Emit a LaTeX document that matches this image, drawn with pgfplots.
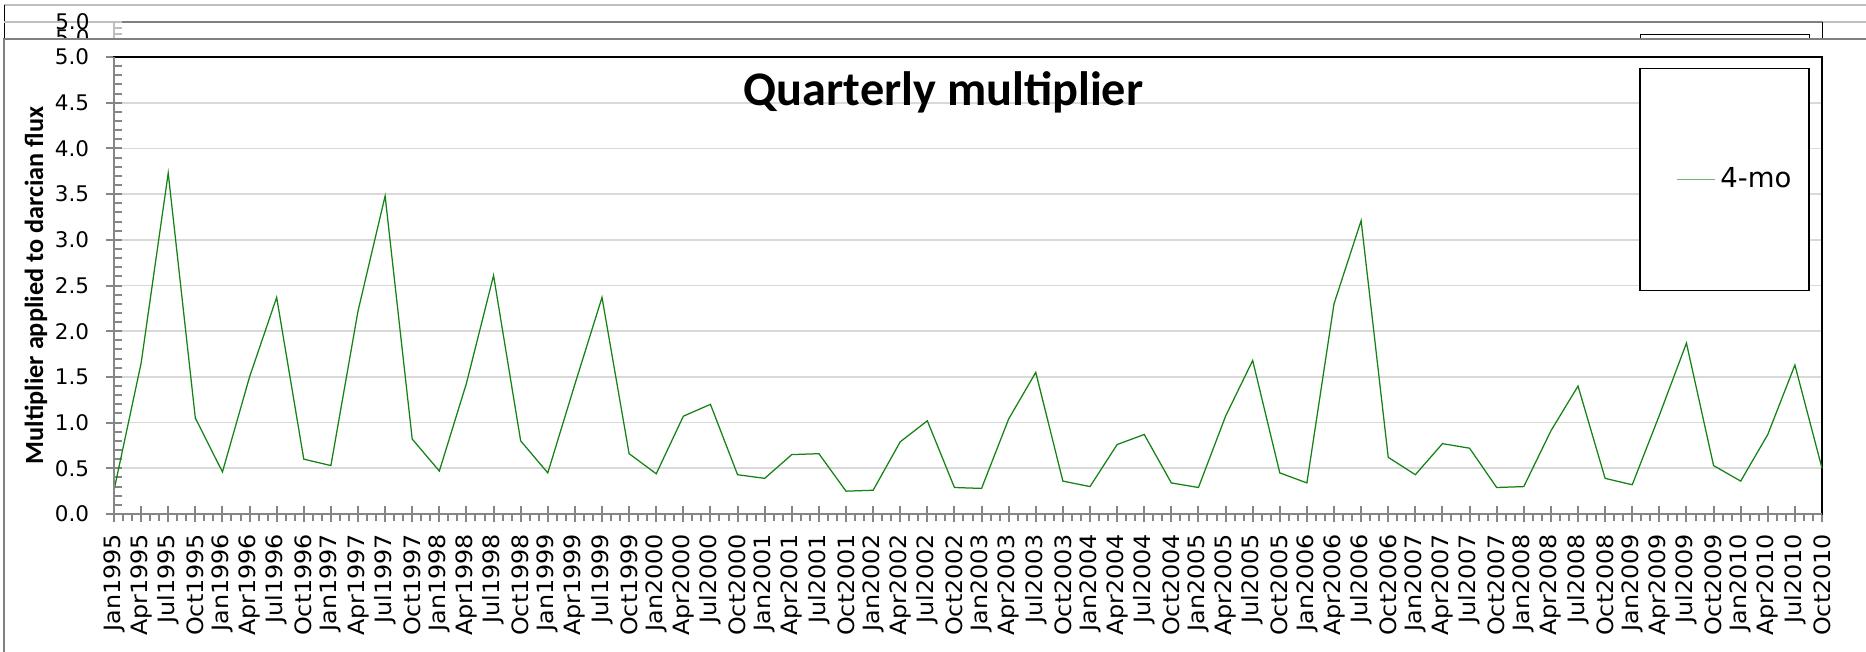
\documentclass[border=0pt]{standalone}
\usepackage{fontspec}
\setmainfont{DejaVu Sans}
\newfontfamily\carlito{Carlito}
\newfontfamily\xlab[FakeStretch=1.06]{DejaVu Sans}
\usepackage{pgfplots}
\pgfplotsset{compat=1.18}
\definecolor{axgray}{RGB}{134,134,134}
\definecolor{gridgray}{RGB}{217,217,217}
\definecolor{lgreen}{RGB}{20,130,20}
\definecolor{leggreen}{RGB}{110,185,110}
\definecolor{lightframe}{RGB}{191,191,191}
\definecolor{midframe}{RGB}{128,128,128}

\pgfplotstableread{
x y
0 0.26
1 1.65
2 3.73
3 1.05
4 0.46
5 1.50
6 2.37
7 0.60
8 0.53
9 2.22
10 3.48
11 0.82
12 0.47
13 1.43
14 2.61
15 0.80
16 0.45
17 1.42
18 2.37
19 0.66
20 0.44
21 1.07
22 1.20
23 0.43
24 0.39
25 0.65
26 0.66
27 0.25
28 0.26
29 0.79
30 1.02
31 0.29
32 0.28
33 1.04
34 1.55
35 0.36
36 0.30
37 0.76
38 0.87
39 0.34
40 0.29
41 1.07
42 1.68
43 0.45
44 0.34
45 2.30
46 3.21
47 0.62
48 0.43
49 0.77
50 0.72
51 0.29
52 0.30
53 0.91
54 1.40
55 0.39
56 0.32
57 1.08
58 1.87
59 0.53
60 0.36
61 0.87
62 1.63
63 0.50
}\datatable

\begin{document}
\begin{tikzpicture}
\useasboundingbox (0,0) rectangle (746.4pt,260.4pt);
% --- charts stacked behind (partly visible at the top)
\draw[lightframe, line width=0.8pt] (1.6pt,258.4pt) -- (746.4pt,258.4pt);
\draw[black, line width=0.4pt] (1.6pt,258.4pt) -- (1.6pt,244.8pt);
\draw[lightframe, line width=0.8pt] (1.6pt,251.6pt) -- (746.4pt,251.6pt);
\draw[midframe, line width=0.8pt] (45.6pt,251.6pt) -- (728.8pt,251.6pt);
\draw[black, line width=0.4pt] (728.8pt,251.6pt) -- (728.8pt,244.8pt);
\draw[black, line width=0.4pt] (656pt,244.8pt) -- (656pt,246.4pt) -- (723.6pt,246.4pt) -- (723.6pt,244.8pt);
\draw[lightframe, line width=0.8pt] (42.4pt,251.6pt) -- (48.8pt,251.6pt);
\foreach \yy in {249.2,246.8} \draw[lightframe, line width=0.8pt] (45.6pt,\yy pt) -- (48.8pt,\yy pt);
\draw[lightframe, line width=0.8pt] (45.6pt,251.6pt) -- (45.6pt,244.8pt);
\begin{scope}
\clip (0pt,244.8pt) rectangle (746.4pt,260.4pt);
\node[font=\fontsize{8.6}{10}\selectfont, anchor=east, inner sep=0pt] at (36pt,245.4pt) {5.0};
\end{scope}
\node[font=\fontsize{8.6}{10}\selectfont, anchor=east, inner sep=0pt] at (36pt,251.6pt) {5.0};
% --- front chart area
\fill[white] (1.6pt,-5pt) rectangle (750pt,244.8pt);
\draw[midframe, line width=0.8pt] (1.6pt,-5pt) -- (1.6pt,244.8pt) -- (750pt,244.8pt);

\begin{axis}[
  at={(45.6pt,54.8pt)}, anchor=south west,
  scale only axis, width=683.2pt, height=182.8pt,
  xmin=0, xmax=63, ymin=0, ymax=5,
  axis line style={black, line width=0.5pt},
  xtick={0,...,63},
  xticklabels={Jan1995,Apr1995,Jul1995,Oct1995,Jan1996,Apr1996,Jul1996,Oct1996,Jan1997,Apr1997,Jul1997,Oct1997,Jan1998,Apr1998,Jul1998,Oct1998,Jan1999,Apr1999,Jul1999,Oct1999,Jan2000,Apr2000,Jul2000,Oct2000,Jan2001,Apr2001,Jul2001,Oct2001,Jan2002,Apr2002,Jul2002,Oct2002,Jan2003,Apr2003,Jul2003,Oct2003,Jan2004,Apr2004,Jul2004,Oct2004,Jan2005,Apr2005,Jul2005,Oct2005,Jan2006,Apr2006,Jul2006,Oct2006,Jan2007,Apr2007,Jul2007,Oct2007,Jan2008,Apr2008,Jul2008,Oct2008,Jan2009,Apr2009,Jul2009,Oct2009,Jan2010,Apr2010,Jul2010,Oct2010},
  minor x tick num=2,
  ytick={0,0.5,...,5}, minor y tick num=4,
  xtick pos=left, ytick pos=left,
  tick align=center, major tick length=6.4pt, minor tick length=3.2pt,
  tick style={axgray, line width=0.8pt},
  every minor x tick/.append style={yshift=-1.2pt},
  every minor y tick/.append style={xshift=1.6pt},
  ymajorgrids, major grid style={gridgray, line width=0.7pt},
  xticklabel style={rotate=90, anchor=east, font=\xlab\fontsize{9}{10}\selectfont},
  xticklabel shift=1.2pt,
  yticklabel style={font=\fontsize{8.6}{10}\selectfont, /pgf/number format/.cd, fixed, fixed zerofill, precision=1, assume math mode=true},
  yticklabel shift=3.2pt,
  ylabel={\carlito\bfseries Multiplier applied to darcian flux},
  every axis y label/.style={at={(axis description cs:-0.0457,0.5)}, rotate=90, anchor=center, font=\fontsize{10.5}{12}\selectfont},
  legend style={at={(rel axis cs:0.9429,0.732)}, anchor=center, draw=black, line width=0.5pt,
    inner xsep=5pt, inner ysep=37.6pt, font=\fontsize{11}{13}\selectfont},
  legend image code/.code={\path (0pt,0pt); \draw[leggreen, line width=0.7pt] (9.6pt,0pt) -- (24.6pt,0pt);},
  legend cell align=left,
  clip=false,
]
\addplot[lgreen, line width=0.5pt] table[x=x, y=y] {\datatable};
\addlegendentry{4-mo}
\draw[axgray, line width=0.8pt] (rel axis cs:0,1) -- (rel axis cs:0,0) -- (rel axis cs:1,0);
\node[font=\carlito\bfseries\fontsize{19.3}{22}\selectfont, anchor=base] at (axis cs:30.6,4.47) {Quarterly multiplier};
\end{axis}
\end{tikzpicture}
\end{document}
